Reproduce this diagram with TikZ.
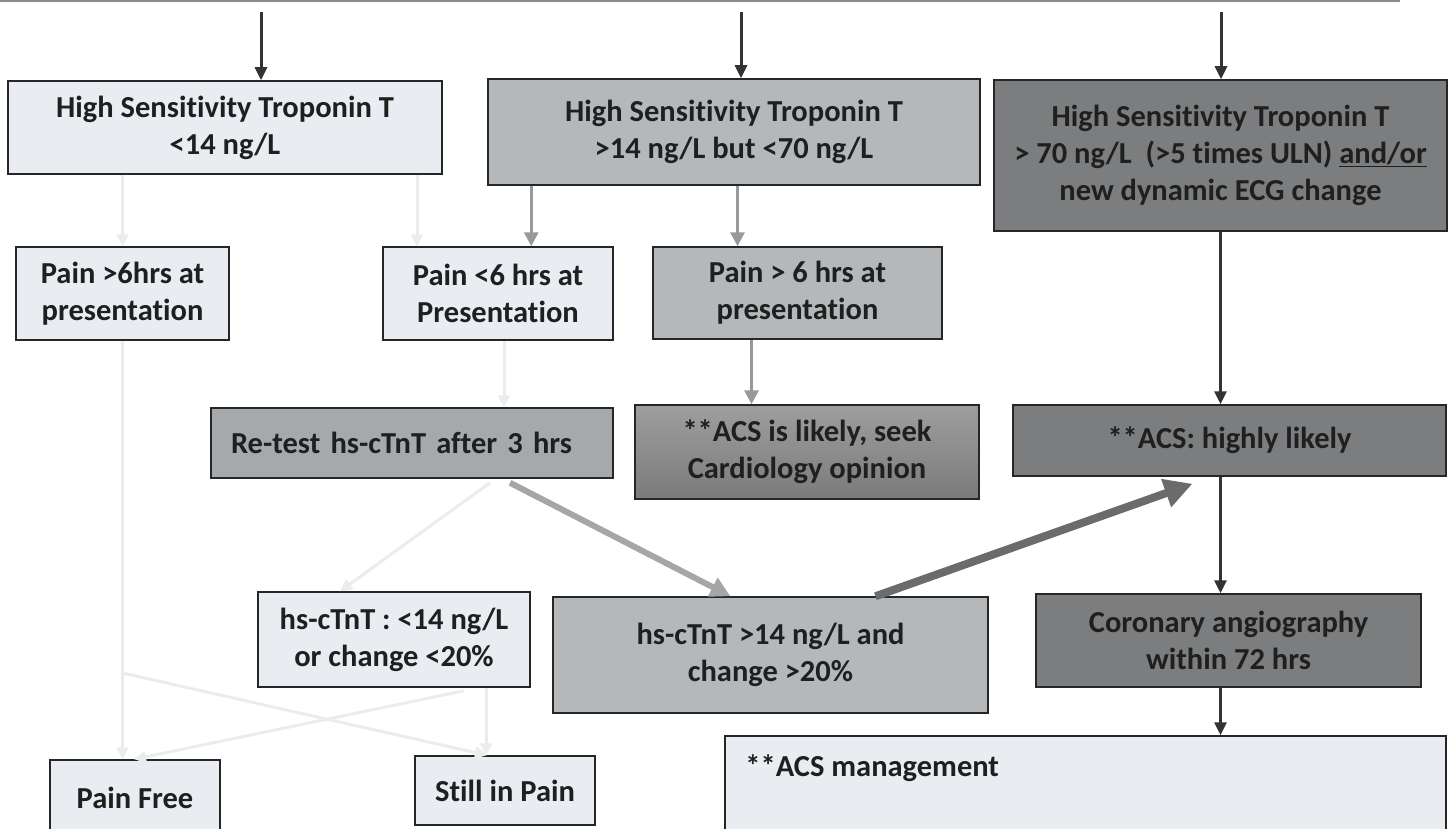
\documentclass[tikz,border=0pt]{standalone}
\usepackage{fontspec}
\setmainfont{Carlito}[Ligatures=NoCommon]
\usetikzlibrary{arrows.meta}

\definecolor{paleBlue}{HTML}{E9EDF1}
\definecolor{midGrey}{HTML}{B5B8BA}
\definecolor{retestGrey}{HTML}{A6A9AB}
\definecolor{darkGrey}{HTML}{7B7D7F}
\definecolor{faintLine}{HTML}{EBECEE}

\begin{document}
\begin{tikzpicture}[
        x=1pt, y=-1pt,
        box/.style={
          rectangle,
          draw=black!85,
          line width=1.5pt,
          align=center,
          inner sep=0pt,
          text=black!88,
          font=\fontsize{30.5}{37}\selectfont\bfseries
        },
        lowBox/.style={box, fill=paleBlue},
        midBox/.style={box, fill=midGrey},
        highBox/.style={box, fill=darkGrey},
        darkArrow/.style={-{Triangle[length=13pt, width=12pt]}, line width=3pt, black!80},
        greyArrow/.style={-{Triangle[length=14pt, width=14pt]}, line width=3pt, black!40},
        faint/.style={-{Triangle[length=12pt, width=12pt]}, line width=3pt, faintLine}
    ]
    \path[use as bounding box, clip] (0,0) rectangle (1453,829);

    % edge of the box above
    \draw[black!45, line width=2.5pt] (0,1) -- (1400,1);

    % Define the nodes
    \node[lowBox, minimum width=434pt, minimum height=93pt] (lowTrop) at (225,127.5)
      {High Sensitivity Troponin T\\<14 ng/L};
    \node[midBox, minimum width=492pt, minimum height=106pt] (midTrop) at (734,132)
      {High Sensitivity Troponin T\\>14 ng/L but <70 ng/L};
    \node[highBox, minimum width=453pt, minimum height=151pt] (highTrop) at (1220.5,155.5)
      {High Sensitivity Troponin T\\> 70 ng/L\ \ (>5 times ULN) \underline{and/or}\\new dynamic ECG change};

    \node[lowBox, minimum width=213pt, minimum height=93pt] (lateLow) at (122.5,293.5)
      {Pain >6hrs at\\presentation};
    \node[lowBox, minimum width=230pt, minimum height=93pt] (earlyLow) at (498,293.5)
      {Pain <6 hrs at\\Presentation};
    \node[midBox, minimum width=289pt, minimum height=92pt] (lateMid) at (797.5,293)
      {Pain > 6 hrs at\\presentation};

    \node[box, fill=retestGrey, minimum width=402pt, minimum height=70pt,
      text width=362pt, align=left] (retest) at (412,443)
      {Re-test hs-cTnT after 3 hrs};
    \node[box, top color=black!38, bottom color=black!52, draw=black!85,
      minimum width=344pt, minimum height=94pt] (likely) at (807,452)
      {**ACS is likely, seek\\Cardiology opinion};
    \node[highBox, minimum width=433pt, minimum height=71pt] (highly) at (1229.5,440.5)
      {**ACS: highly likely};

    \node[lowBox, minimum width=272pt, minimum height=95pt] (noRise) at (394,639.5)
      {hs-cTnT : <14 ng/L\\or change <20\%};
    \node[midBox, minimum width=435pt, minimum height=116pt] (rise) at (770.5,655)
      {hs-cTnT >14 ng/L and\\change >20\%};
    \node[highBox, minimum width=385pt, minimum height=93pt] (angio) at (1228.5,640.5)
      {Coronary angiography\\within 72 hrs};

    \node[lowBox, minimum width=170pt, minimum height=75pt] (painFree) at (135,797.5)
      {Pain Free};
    \node[lowBox, minimum width=180pt, minimum height=69pt] (stillPain) at (505,790.5)
      {Still in Pain};
    \node[lowBox, minimum width=721pt, minimum height=99pt,
      label={[anchor=north west, inner sep=0pt, xshift=21pt, yshift=-19pt,
        text=black!88, font=\fontsize{30.5}{37}\selectfont\bfseries]north west:**ACS management}]
      (mgmt) at (1085.5,785.5) {};

    \coordinate (topLeft) at (261,12);
    \coordinate (topMid) at (741,12);
    \coordinate (topRight) at (1221,12);
    \coordinate (split) at (122.5,673);

    % Connect the nodes
    \draw[darkArrow] (topLeft) -- (topLeft |- lowTrop.north);
    \draw[darkArrow] (topMid) -- (topMid |- midTrop.north);
    \draw[darkArrow] (topRight) -- (topRight |- highTrop.north);

    \draw[faint] (lowTrop.south -| lateLow.north) -- (lateLow.north);
    \draw[faint] ([xshift=-81pt]earlyLow.north |- lowTrop.south) -- ([xshift=-81pt]earlyLow.north);
    \draw[greyArrow] ([xshift=44pt]midTrop.south west) -- ([xshift=44pt]midTrop.south west |- earlyLow.north);
    \draw[greyArrow] ([xshift=-60pt]lateMid.north |- midTrop.south) -- ([xshift=-60pt]lateMid.north);

    \draw[faint] ([xshift=6pt]earlyLow.south) -- ([xshift=6pt]earlyLow.south |- retest.north);
    \draw[greyArrow] ([xshift=-46pt]lateMid.south) -- ([xshift=-46pt]lateMid.south |- likely.north);
    \draw[darkArrow] (highTrop.south) -- (highTrop.south |- highly.north);
    \draw[darkArrow] (highTrop.south |- highly.south) -- (highTrop.south |- angio.north);
    \draw[darkArrow] (highTrop.south |- angio.south) -- (highTrop.south |- mgmt.north);

    \draw[-{Triangle[length=20pt, width=20pt]}, line width=6pt, black!35]
      ([xshift=98pt, yshift=-4pt]retest.south) -- ([xshift=-40pt]rise.north);
    \draw[-{Triangle[length=28pt, width=28pt]}, line width=8pt, black!58]
      ([xshift=105pt]rise.north) -- ([xshift=-37pt, yshift=-7pt]highly.south);

    \draw[faint] ([xshift=78pt, yshift=-4pt]retest.south) -- ([xshift=-54pt]noRise.north);
    \draw[faint] (lateLow.south) -- (lateLow.south |- painFree.north);
    \draw[faint] ([xshift=92pt]noRise.south) -- ([xshift=92pt]noRise.south |- stillPain.north);
    \draw[faint] ([xshift=70pt, yshift=-3pt]noRise.south) -- ([xshift=-1pt]painFree.north);
    \draw[faint] (split) -- ([xshift=-18pt]stillPain.north);

\end{tikzpicture}
\end{document}
